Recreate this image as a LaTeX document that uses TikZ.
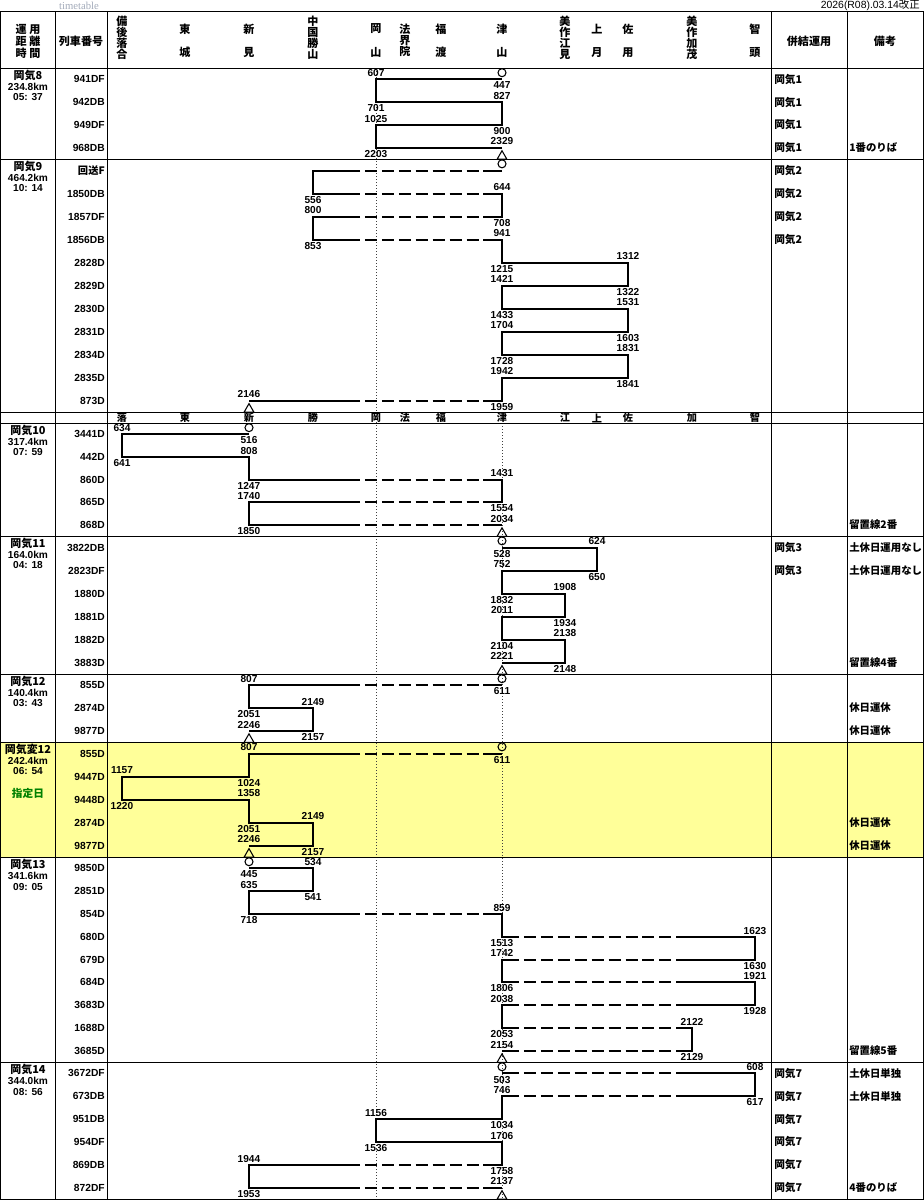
\documentclass[tikz,border=0pt]{standalone}
\usepackage{fontspec}
\setmainfont{Liberation Sans}
\newfontfamily\jp{Noto Sans CJK JP}
\newfontfamily\serif{Liberation Serif}
\usetikzlibrary{shapes.geometric}
\definecolor{hilite}{HTML}{FFFF99}
\definecolor{dgreen}{HTML}{008000}
\definecolor{wmark}{HTML}{A3ABBA}

\begin{document}
\begin{tikzpicture}[
  x=0.75pt, y=-0.75pt,
  gridln/.style={line width=0.75pt},
  guideln/.style={line width=0.5pt, black!75, dash pattern=on 0.75pt off 1.5pt},
  run/.style={line width=1.5pt},
  dsh/.style={line width=1.5pt, dash pattern=on 9pt off 3.7pt, dash phase=9pt},
  tm/.style={font=\bfseries\fontsize{7.6}{8}\selectfont, inner sep=0pt},
  trn/.style={font=\bfseries\fontsize{7.7}{8}\selectfont, anchor=east, inner sep=0pt},
  opn/.style={font=\jp\bfseries\fontsize{8.2}{9}\selectfont, inner sep=0pt},
  kmln/.style={font=\bfseries\fontsize{7.6}{8}\selectfont, inner sep=0pt},
  pair/.style={font=\jp\bfseries\fontsize{8}{9}\selectfont, anchor=west, inner sep=0pt},
  rmk/.style={font=\jp\bfseries\fontsize{7.8}{9}\selectfont, anchor=west, inner sep=0pt},
  stn/.style={font=\jp\bfseries\fontsize{8.3}{8.3}\selectfont, align=center, inner sep=0pt},
  abbr/.style={font=\jp\bfseries\fontsize{7.6}{8}\selectfont, inner sep=0pt},
  hd/.style={font=\jp\bfseries\fontsize{8.3}{9}\selectfont, align=center, inner sep=0pt},
  orig/.style={circle, draw, line width=0.8pt, minimum size=6pt, inner sep=0pt, yshift=5pt},
  term/.style={regular polygon, regular polygon sides=3, draw, line width=0.8pt,
    minimum size=8.5pt, inner sep=0pt, outer sep=0pt, yshift=-6.6pt},
]

% Page
\fill[white] (0,0) rectangle (924,1200);
\useasboundingbox (0,0) rectangle (924,1200);

% Highlighted block (designated days)
\fill[hilite] (0,742) rectangle (924,857);

% Station guide lines
\draw[guideln] (376,68) -- (376,1199);
\draw[guideln] (502,423) -- (502,1199);

% === Table rules ===
\foreach \py in {11,68,159,412,423,536,674,742,857,1062,1199}
  \draw[gridln] (0,\py) -- (924,\py);
\foreach \px in {0.5,55,107,771,847,923.5}
  \draw[gridln] (\px,11) -- (\px,1199);

% === Header ===
\node[font=\serif\fontsize{8}{8}\selectfont, text=wmark, inner sep=0pt] (wm) at (79,5.5) {timetable};
\node[font=\fontsize{7.8}{8}\selectfont, anchor=east, inner sep=0pt] (rev) at (920,5.5)
  {2026(R08).03.14{\jp 改正}};

\node[hd] (hOp) at (28,41) {運 用\\距 離\\時 間};
\node[hd] (hTr) at (81,41) {列車番号};
\node[hd] (hPr) at (809,41) {併結運用};
\node[hd] (hRm) at (885,41) {備考};

\node[stn] (hBO) at (122,38) {備\\後\\落\\合};
\node[stn] (hTJ) at (185,40.5) {東\\[9pt]城};
\node[stn] (hNM) at (249,40.5) {新\\[9pt]見};
\node[stn] (hCK) at (313,38) {中\\国\\勝\\山};
\node[stn] (hOK) at (376,40.5) {岡\\[9pt]山};
\node[stn] (hHK) at (405,40.5) {法\\界\\院};
\node[stn] (hFW) at (441,40.5) {福\\[9pt]渡};
\node[stn] (hTY) at (502,40.5) {津\\[9pt]山};
\node[stn] (hME) at (565,38) {美\\作\\江\\見};
\node[stn] (hKZ) at (597,40.5) {上\\[9pt]月};
\node[stn] (hSY) at (628,40.5) {佐\\[9pt]用};
\node[stn] (hMK) at (692,38) {美\\作\\加\\茂};
\node[stn] (hCZ) at (755,40.5) {智\\[9pt]頭};

% Short station row
\foreach \px/\ch [count=\i] in {122/落,185/東,249/新,313/勝,376/岡,405/法,441/福,502/津,565/江,597/上,628/佐,692/加,755/智}
  \node[abbr] (sub\i) at (\px,418) {\ch};

% === Duty column ===
\foreach \nm/\km/\hh/\py [count=\i] in {8/234.8km/05: 37/68, 9/464.2km/10: 14/159,
    10/317.4km/07: 59/423, 11/164.0km/04: 18/536, 12/140.4km/03: 43/674,
    変12/242.4km/06: 54/742, 13/341.6km/09: 05/857, 14/344.0km/08: 56/1062} {
  \node[opn] (op\i) at (28,\py+7.5) {岡気\nm};
  \node[kmln] (km\i) at (28,\py+18.5) {\km};
  \node[kmln] (hh\i) at (28,\py+29.5) {\hh};
}
\node[font=\jp\bfseries\fontsize{8}{9}\selectfont, text=dgreen, inner sep=0pt] (desig) at (28,793) {指定日};

% === 岡気8 ===
\begin{scope}[shift={(0,68)}, y=-17.06pt]
  \draw[run] (502,.5) -- (376,.5) -- (376,1.5) -- (502,1.5) -- (502,2.5) -- (376,2.5)
    -- (376,3.5) -- (502,3.5);
  \node[orig] (s8o) at (502,.5) {};
  \node[term] (s8e) at (502,3.5) {};
  \foreach \px/\py/\sd/\lb [count=\i] in {376/.5/1/607, 502/.5/-1/447, 376/1.5/-1/701,
      502/1.5/1/827, 502/2.5/-1/900, 376/2.5/1/1025, 376/3.5/-1/2203, 502/3.5/1/2329}
    \node[tm, yshift=\sd*4.6pt] (s8t\i) at (\px,\py) {\lb};
  \foreach \tn [count=\k] in {941DF,942DB,949DF,968DB}
    \node[trn] (s8n\k) at (105,\k-0.5) {\tn};
  \foreach \k in {1,...,4}
    \node[pair] (s8p\k) at (774,\k-0.5) {岡気1};
  \node[rmk] (s8r) at (849,3.5) {1番のりば};
\end{scope}

% === 岡気9 ===
\begin{scope}[shift={(0,159)}, y=-17.25pt]
  \draw[run] (502,.5) -- (495,.5) (360,.5) -- (313,.5) -- (313,1.5) -- (360,1.5)
    (495,1.5) -- (502,1.5) -- (502,2.5) -- (495,2.5) (360,2.5) -- (313,2.5) -- (313,3.5) -- (360,3.5)
    (495,3.5) -- (502,3.5) -- (502,4.5) -- (628,4.5) -- (628,5.5) -- (502,5.5) -- (502,6.5)
    -- (628,6.5) -- (628,7.5) -- (502,7.5) -- (502,8.5) -- (628,8.5) -- (628,9.5) -- (502,9.5)
    -- (502,10.5) -- (495,10.5) (360,10.5) -- (249,10.5);
  \draw[dsh] (360,.5) -- (495,.5) (360,1.5) -- (495,1.5) (360,2.5) -- (495,2.5)
    (360,3.5) -- (495,3.5) (360,10.5) -- (495,10.5);
  \node[orig] (s9o) at (502,.5) {};
  \node[term] (s9e) at (249,10.5) {};
  \foreach \px/\py/\sd/\lb [count=\i] in {313/1.5/-1/556, 502/1.5/1/644, 502/2.5/-1/708,
      313/2.5/1/800, 313/3.5/-1/853, 502/3.5/1/941, 502/4.5/-1/1215, 628/4.5/1/1312,
      628/5.5/-1/1322, 502/5.5/1/1421, 502/6.5/-1/1433, 628/6.5/1/1531, 628/7.5/-1/1603,
      502/7.5/1/1704, 502/8.5/-1/1728, 628/8.5/1/1831, 628/9.5/-1/1841, 502/9.5/1/1942,
      502/10.5/-1/1959, 249/10.5/1/2146}
    \node[tm, yshift=\sd*4.6pt] (s9t\i) at (\px,\py) {\lb};
  \foreach \tn [count=\k] in {\jp 回送F,1850DB,1857DF,1856DB,2828D,2829D,2830D,2831D,2834D,2835D,873D}
    \node[trn] (s9n\k) at (105,\k-0.5) {\tn};
  \foreach \k in {1,...,4}
    \node[pair] (s9p\k) at (774,\k-0.5) {岡気2};
\end{scope}

% === 岡気10 ===
\begin{scope}[shift={(0,423)}, y=-16.95pt]
  \draw[run] (249,.5) -- (122,.5) -- (122,1.5) -- (249,1.5) -- (249,2.5) -- (360,2.5)
    (495,2.5) -- (502,2.5) -- (502,3.5) -- (495,3.5) (360,3.5) -- (249,3.5) -- (249,4.5) -- (360,4.5)
    (495,4.5) -- (502,4.5);
  \draw[dsh] (360,2.5) -- (495,2.5) (360,3.5) -- (495,3.5) (360,4.5) -- (495,4.5);
  \node[orig] (s10o) at (249,.5) {};
  \node[term] (s10e) at (502,4.5) {};
  \foreach \px/\py/\sd/\lb [count=\i] in {122/.5/1/634, 249/.5/-1/516, 122/1.5/-1/641,
      249/1.5/1/808, 249/2.5/-1/1247, 502/2.5/1/1431, 502/3.5/-1/1554, 249/3.5/1/1740,
      249/4.5/-1/1850, 502/4.5/1/2034}
    \node[tm, yshift=\sd*4.6pt] (s10t\i) at (\px,\py) {\lb};
  \foreach \tn [count=\k] in {3441D,442D,860D,865D,868D}
    \node[trn] (s10n\k) at (105,\k-0.5) {\tn};
  \node[rmk] (s10r) at (849,4.5) {留置線2番};
\end{scope}

% === 岡気11 ===
\begin{scope}[shift={(0,536)}, y=-17.25pt]
  \draw[run] (502,.5) -- (597,.5) -- (597,1.5) -- (502,1.5) -- (502,2.5) -- (565,2.5)
    -- (565,3.5) -- (502,3.5) -- (502,4.5) -- (565,4.5) -- (565,5.5) -- (502,5.5);
  \node[orig] (s11o) at (502,.5) {};
  \node[term] (s11e) at (502,5.5) {};
  \foreach \px/\py/\sd/\lb [count=\i] in {502/.5/-1/528, 597/.5/1/624, 597/1.5/-1/650,
      502/1.5/1/752, 502/2.5/-1/1832, 565/2.5/1/1908, 565/3.5/-1/1934, 502/3.5/1/2011,
      502/4.5/-1/2104, 565/4.5/1/2138, 565/5.5/-1/2148, 502/5.5/1/2221}
    \node[tm, yshift=\sd*4.6pt] (s11t\i) at (\px,\py) {\lb};
  \foreach \tn [count=\k] in {3822DB,2823DF,1880D,1881D,1882D,3883D}
    \node[trn] (s11n\k) at (105,\k-0.5) {\tn};
  \foreach \k in {1,2} {
    \node[pair] (s11p\k) at (774,\k-0.5) {岡気3};
    \node[rmk] (s11r\k) at (849,\k-0.5) {土休日運用なし};
  }
  \node[rmk] (s11r6) at (849,5.5) {留置線4番};
\end{scope}

% === 岡気12 ===
\begin{scope}[shift={(0,674)}, y=-17pt]
  \draw[run] (502,.5) -- (495,.5) (360,.5) -- (249,.5) -- (249,1.5) -- (313,1.5) -- (313,2.5)
    -- (249,2.5);
  \draw[dsh] (360,.5) -- (495,.5);
  \node[orig] (s12o) at (502,.5) {};
  \node[term] (s12e) at (249,2.5) {};
  \foreach \px/\py/\sd/\lb [count=\i] in {249/.5/1/807, 502/.5/-1/611, 249/1.5/-1/2051,
      313/1.5/1/2149, 313/2.5/-1/2157, 249/2.5/1/2246}
    \node[tm, yshift=\sd*4.6pt] (s12t\i) at (\px,\py) {\lb};
  \foreach \tn [count=\k] in {855D,2874D,9877D}
    \node[trn] (s12n\k) at (105,\k-0.5) {\tn};
  \foreach \k in {2,3}
    \node[rmk] (s12r\k) at (849,\k-0.5) {休日運休};
\end{scope}

% === 岡気変12 ===
\begin{scope}[shift={(0,742)}, y=-17.25pt]
  \draw[run] (502,.5) -- (495,.5) (360,.5) -- (249,.5) -- (249,1.5) -- (122,1.5) -- (122,2.5)
    -- (249,2.5) -- (249,3.5) -- (313,3.5) -- (313,4.5) -- (249,4.5);
  \draw[dsh] (360,.5) -- (495,.5);
  \node[orig] (s12vo) at (502,.5) {};
  \node[term] (s12ve) at (249,4.5) {};
  \foreach \px/\py/\sd/\lb [count=\i] in {249/.5/1/807, 502/.5/-1/611, 249/1.5/-1/1024,
      122/1.5/1/1157, 122/2.5/-1/1220, 249/2.5/1/1358, 249/3.5/-1/2051, 313/3.5/1/2149,
      313/4.5/-1/2157, 249/4.5/1/2246}
    \node[tm, yshift=\sd*4.6pt] (s12vt\i) at (\px,\py) {\lb};
  \foreach \tn [count=\k] in {855D,9447D,9448D,2874D,9877D}
    \node[trn] (s12vn\k) at (105,\k-0.5) {\tn};
  \foreach \k in {4,5}
    \node[rmk] (s12vr\k) at (849,\k-0.5) {休日運休};
\end{scope}

% === 岡気13 ===
\begin{scope}[shift={(0,857)}, y=-17.09pt]
  \draw[run] (249,.5) -- (313,.5) -- (313,1.5) -- (249,1.5) -- (249,2.5) -- (360,2.5)
    (495,2.5) -- (502,2.5) -- (502,3.5) -- (519,3.5) (676,3.5) -- (755,3.5) -- (755,4.5) -- (676,4.5)
    (519,4.5) -- (502,4.5) -- (502,5.5) -- (519,5.5) (676,5.5) -- (755,5.5) -- (755,6.5) -- (676,6.5)
    (519,6.5) -- (502,6.5) -- (502,7.5) -- (519,7.5) (676,7.5) -- (692,7.5) -- (692,8.5) -- (676,8.5)
    (519,8.5) -- (502,8.5);
  \draw[dsh] (360,2.5) -- (495,2.5) (519,3.5) -- (676,3.5) (519,4.5) -- (676,4.5)
    (519,5.5) -- (676,5.5) (519,6.5) -- (676,6.5) (519,7.5) -- (676,7.5) (519,8.5) -- (676,8.5);
  \node[orig] (s13o) at (249,.5) {};
  \node[term] (s13e) at (502,8.5) {};
  \foreach \px/\py/\sd/\lb [count=\i] in {249/.5/-1/445, 313/.5/1/534, 313/1.5/-1/541,
      249/1.5/1/635, 249/2.5/-1/718, 502/2.5/1/859, 502/3.5/-1/1513, 755/3.5/1/1623,
      755/4.5/-1/1630, 502/4.5/1/1742, 502/5.5/-1/1806, 755/5.5/1/1921, 755/6.5/-1/1928,
      502/6.5/1/2038, 502/7.5/-1/2053, 692/7.5/1/2122, 692/8.5/-1/2129, 502/8.5/1/2154}
    \node[tm, yshift=\sd*4.6pt] (s13t\i) at (\px,\py) {\lb};
  \foreach \tn [count=\k] in {9850D,2851D,854D,680D,679D,684D,3683D,1688D,3685D}
    \node[trn] (s13n\k) at (105,\k-0.5) {\tn};
  \node[rmk] (s13r) at (849,8.5) {留置線5番};
\end{scope}

% === 岡気14 ===
\begin{scope}[shift={(0,1062)}, y=-17.12pt]
  \draw[run] (502,.5) -- (519,.5) (676,.5) -- (755,.5) -- (755,1.5) -- (676,1.5)
    (519,1.5) -- (502,1.5) -- (502,2.5) -- (376,2.5) -- (376,3.5) -- (502,3.5) -- (502,4.5) -- (495,4.5)
    (360,4.5) -- (249,4.5) -- (249,5.5) -- (360,5.5) (495,5.5) -- (502,5.5);
  \draw[dsh] (519,.5) -- (676,.5) (519,1.5) -- (676,1.5) (360,4.5) -- (495,4.5) (360,5.5) -- (495,5.5);
  \node[orig] (s14o) at (502,.5) {};
  \node[term] (s14e) at (502,5.5) {};
  \foreach \px/\py/\sd/\lb [count=\i] in {502/.5/-1/503, 755/.5/1/608, 755/1.5/-1/617,
      502/1.5/1/746, 502/2.5/-1/1034, 376/2.5/1/1156, 376/3.5/-1/1536, 502/3.5/1/1706,
      502/4.5/-1/1758, 249/4.5/1/1944, 249/5.5/-1/1953, 502/5.5/1/2137}
    \node[tm, yshift=\sd*4.6pt] (s14t\i) at (\px,\py) {\lb};
  \foreach \tn [count=\k] in {3672DF,673DB,951DB,954DF,869DB,872DF}
    \node[trn] (s14n\k) at (105,\k-0.5) {\tn};
  \foreach \k in {1,...,6}
    \node[pair] (s14p\k) at (774,\k-0.5) {岡気7};
  \foreach \k in {1,2}
    \node[rmk] (s14r\k) at (849,\k-0.5) {土休日単独};
  \node[rmk] (s14r6) at (849,5.5) {4番のりば};
\end{scope}

\end{tikzpicture}
\end{document}
